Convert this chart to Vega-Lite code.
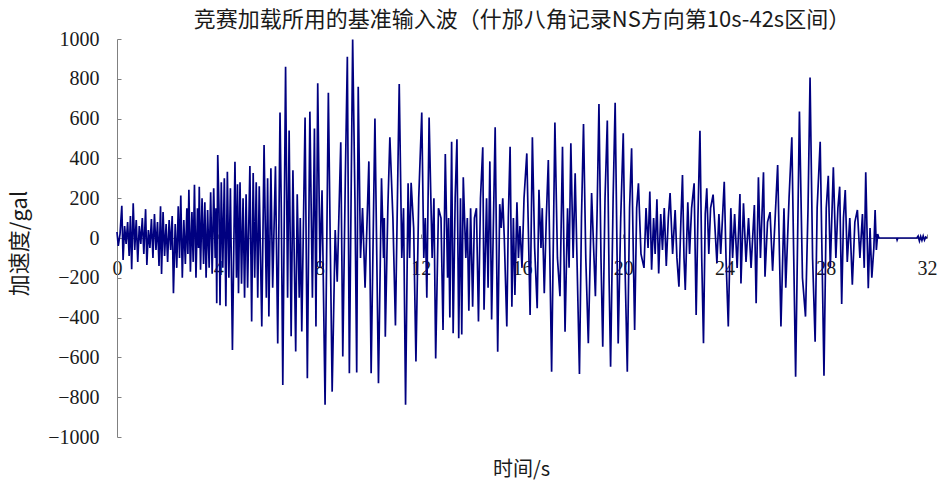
{
"$schema": "https://vega.github.io/schema/vega-lite/v6.json",
"width": 810, "height": 398,
"autosize": "none",
"padding": {"left": 117, "top": 39, "right": 14, "bottom": 44},
"background": "white",
"config": {"view": {"stroke": null}},
"title": {"text": "竞赛加载所用的基准输入波（什邡八角记录NS方向第10s-42s区间）", "font": "Noto Sans CJK SC", "fontSize": 22, "fontWeight": "normal", "color": "#1a1a1a", "anchor": "middle", "offset": -3},
"data": {"values": [
{"t":0.00,"a":30},{"t":0.05,"a":-40},{"t":0.12,"a":20},{"t":0.19,"a":162},{"t":0.24,"a":-110},{"t":0.30,"a":60},{"t":0.36,"a":-30},{"t":0.42,"a":80},{"t":0.48,"a":-90},{"t":0.53,"a":110},{"t":0.58,"a":-157},{"t":0.64,"a":174},{"t":0.70,"a":-60},{"t":0.76,"a":90},{"t":0.82,"a":-120},{"t":0.88,"a":60},{"t":0.94,"a":-30},{"t":1.00,"a":100},{"t":1.06,"a":-80},{"t":1.13,"a":145},{"t":1.18,"a":-135},{"t":1.24,"a":40},{"t":1.30,"a":-50},{"t":1.36,"a":95},{"t":1.42,"a":-100},{"t":1.48,"a":120},{"t":1.54,"a":-60},{"t":1.60,"a":80},{"t":1.66,"a":-140},{"t":1.72,"a":160},{"t":1.76,"a":-181},{"t":1.82,"a":130},{"t":1.88,"a":-90},{"t":1.94,"a":70},{"t":2.00,"a":-120},{"t":2.06,"a":90},{"t":2.12,"a":-60},{"t":2.18,"a":110},{"t":2.23,"a":-278},{"t":2.30,"a":70},{"t":2.36,"a":-150},{"t":2.42,"a":160},{"t":2.47,"a":-100},{"t":2.52,"a":213},{"t":2.58,"a":-200},{"t":2.64,"a":90},{"t":2.70,"a":-130},{"t":2.76,"a":150},{"t":2.80,"a":-80},{"t":2.84,"a":242},{"t":2.90,"a":-170},{"t":2.96,"a":130},{"t":3.01,"a":-120},{"t":3.06,"a":268},{"t":3.12,"a":-200},{"t":3.18,"a":150},{"t":3.22,"a":-50},{"t":3.25,"a":258},{"t":3.30,"a":-160},{"t":3.36,"a":200},{"t":3.42,"a":-130},{"t":3.47,"a":180},{"t":3.52,"a":-200},{"t":3.58,"a":140},{"t":3.64,"a":-150},{"t":3.70,"a":230},{"t":3.76,"a":-180},{"t":3.82,"a":250},{"t":3.88,"a":-100},{"t":3.91,"a":150},{"t":3.94,"a":-328},{"t":3.98,"a":417},{"t":4.03,"a":150},{"t":4.07,"a":-338},{"t":4.12,"a":280},{"t":4.18,"a":-150},{"t":4.24,"a":300},{"t":4.30,"a":-343},{"t":4.36,"a":333},{"t":4.42,"a":-200},{"t":4.48,"a":250},{"t":4.56,"a":-563},{"t":4.66,"a":383},{"t":4.72,"a":-200},{"t":4.76,"a":270},{"t":4.80,"a":-278},{"t":4.86,"a":280},{"t":4.92,"a":-230},{"t":4.98,"a":200},{"t":5.04,"a":-300},{"t":5.10,"a":220},{"t":5.16,"a":-250},{"t":5.25,"a":362},{"t":5.32,"a":-420},{"t":5.38,"a":327},{"t":5.44,"a":-200},{"t":5.50,"a":280},{"t":5.56,"a":-300},{"t":5.62,"a":260},{"t":5.72,"a":-445},{"t":5.81,"a":467},{"t":5.90,"a":-300},{"t":5.95,"a":300},{"t":6.00,"a":-395},{"t":6.08,"a":350},{"t":6.15,"a":-250},{"t":6.26,"a":360},{"t":6.35,"a":-530},{"t":6.44,"a":630},{"t":6.49,"a":150},{"t":6.55,"a":-739},{"t":6.66,"a":861},{"t":6.74,"a":-300},{"t":6.80,"a":540},{"t":6.88,"a":-494},{"t":6.95,"a":340},{"t":7.06,"a":-570},{"t":7.12,"a":220},{"t":7.20,"a":-300},{"t":7.24,"a":100},{"t":7.30,"a":-470},{"t":7.43,"a":606},{"t":7.52,"a":-705},{"t":7.62,"a":635},{"t":7.72,"a":-300},{"t":7.80,"a":550},{"t":7.86,"a":-445},{"t":7.93,"a":777},
{"t":8.02,"a":-150},{"t":8.10,"a":240},{"t":8.22,"a":-838},{"t":8.35,"a":730},{"t":8.50,"a":-772},{"t":8.62,"a":40},{"t":8.70,"a":-220},{"t":8.84,"a":481},{"t":8.92,"a":-596},{"t":9.02,"a":300},{"t":9.10,"a":911},{"t":9.18,"a":-680},{"t":9.31,"a":998},{"t":9.40,"a":200},{"t":9.47,"a":-676},{"t":9.53,"a":760},{"t":9.62,"a":-100},{"t":9.70,"a":150},{"t":9.80,"a":-250},{"t":9.95,"a":385},{"t":10.04,"a":-680},{"t":10.19,"a":601},{"t":10.33,"a":-730},{"t":10.45,"a":300},{"t":10.53,"a":-100},{"t":10.56,"a":100},{"t":10.60,"a":-496},{"t":10.70,"a":150},{"t":10.78,"a":506},{"t":10.90,"a":100},{"t":11.00,"a":-440},{"t":11.15,"a":774},{"t":11.25,"a":-100},{"t":11.32,"a":150},{"t":11.40,"a":-838},{"t":11.50,"a":275},{"t":11.56,"a":-100},{"t":11.62,"a":278},{"t":11.72,"a":50},{"t":11.81,"a":-621},{"t":11.92,"a":200},{"t":12.04,"a":630},{"t":12.12,"a":-100},{"t":12.18,"a":100},{"t":12.24,"a":-300},{"t":12.33,"a":606},{"t":12.45,"a":-100},{"t":12.52,"a":200},{"t":12.59,"a":-605},{"t":12.70,"a":150},{"t":12.80,"a":100},{"t":12.88,"a":-462},{"t":12.97,"a":422},{"t":13.06,"a":-200},{"t":13.10,"a":100},{"t":13.15,"a":-400},{"t":13.22,"a":484},{"t":13.28,"a":-479},{"t":13.36,"a":200},{"t":13.43,"a":496},{"t":13.50,"a":-504},{"t":13.57,"a":200},{"t":13.62,"a":-485},{"t":13.68,"a":305},{"t":13.78,"a":-100},{"t":13.84,"a":100},{"t":13.90,"a":-365},{"t":13.97,"a":150},{"t":14.05,"a":-345},{"t":14.12,"a":100},{"t":14.20,"a":150},{"t":14.28,"a":-420},{"t":14.36,"a":200},{"t":14.45,"a":456},{"t":14.50,"a":-360},{"t":14.60,"a":200},{"t":14.66,"a":-250},{"t":14.73,"a":385},{"t":14.80,"a":-410},{"t":14.94,"a":556},{"t":15.04,"a":-571},{"t":15.12,"a":170},{"t":15.18,"a":50},{"t":15.24,"a":200},{"t":15.30,"a":0},{"t":15.40,"a":-445},{"t":15.46,"a":100},{"t":15.53,"a":459},{"t":15.60,"a":-345},{"t":15.66,"a":100},{"t":15.72,"a":-286},{"t":15.80,"a":180},{"t":15.86,"a":-100},{"t":15.92,"a":60},{"t":16.00,"a":-150},{"t":16.08,"a":200},
{"t":16.19,"a":425},{"t":16.32,"a":-387},{"t":16.41,"a":506},{"t":16.50,"a":-50},{"t":16.60,"a":-353},{"t":16.67,"a":242},{"t":16.75,"a":-50},{"t":16.80,"a":150},{"t":16.88,"a":-278},{"t":16.96,"a":100},{"t":17.04,"a":392},{"t":17.17,"a":-672},{"t":17.30,"a":580},{"t":17.40,"a":-100},{"t":17.50,"a":-293},{"t":17.60,"a":459},{"t":17.70,"a":-471},{"t":17.80,"a":150},{"t":17.86,"a":-150},{"t":17.93,"a":476},{"t":18.02,"a":-100},{"t":18.10,"a":325},{"t":18.18,"a":-150},{"t":18.27,"a":-683},{"t":18.35,"a":100},{"t":18.43,"a":573},{"t":18.52,"a":-100},{"t":18.62,"a":-529},{"t":18.75,"a":226},{"t":18.90,"a":-293},{"t":18.97,"a":150},{"t":19.04,"a":673},{"t":19.12,"a":-100},{"t":19.19,"a":-546},{"t":19.28,"a":200},{"t":19.37,"a":590},{"t":19.44,"a":-200},{"t":19.50,"a":-647},{"t":19.60,"a":200},{"t":19.68,"a":680},{"t":19.80,"a":-530},{"t":19.90,"a":100},{"t":20.00,"a":526},{"t":20.08,"a":-200},{"t":20.16,"a":-672},{"t":20.25,"a":150},{"t":20.33,"a":451},{"t":20.40,"a":-100},{"t":20.45,"a":-462},{"t":20.53,"a":150},{"t":20.60,"a":275},{"t":20.70,"a":-80},{"t":20.82,"a":-150},{"t":20.90,"a":150},{"t":20.98,"a":-50},{"t":21.05,"a":233},{"t":21.12,"a":-160},{"t":21.20,"a":100},{"t":21.26,"a":-80},{"t":21.33,"a":194},{"t":21.40,"a":-178},{"t":21.48,"a":120},{"t":21.55,"a":-60},{"t":21.62,"a":150},{"t":21.70,"a":-140},{"t":21.78,"a":100},{"t":21.85,"a":226},{"t":21.95,"a":-80},{"t":22.05,"a":140},{"t":22.12,"a":-100},{"t":22.20,"a":-245},{"t":22.28,"a":100},{"t":22.34,"a":317},{"t":22.40,"a":-100},{"t":22.45,"a":-261},{"t":22.55,"a":180},{"t":22.62,"a":-80},{"t":22.70,"a":150},{"t":22.80,"a":275},{"t":22.88,"a":-387},{"t":22.95,"a":100},{"t":23.03,"a":539},{"t":23.10,"a":-100},{"t":23.17,"a":-529},{"t":23.24,"a":120},{"t":23.30,"a":250},{"t":23.38,"a":-80},{"t":23.45,"a":150},{"t":23.55,"a":218},{"t":23.62,"a":60},{"t":23.70,"a":-125},{"t":23.78,"a":120},{"t":23.85,"a":-80},{"t":23.92,"a":100},{"t":23.99,"a":283},{"t":24.06,"a":-100},{"t":24.15,"a":-445},
{"t":24.25,"a":150},{"t":24.32,"a":-100},{"t":24.40,"a":120},{"t":24.50,"a":-150},{"t":24.61,"a":221},{"t":24.65,"a":-228},{"t":24.75,"a":174},{"t":24.85,"a":-120},{"t":24.95,"a":100},{"t":25.05,"a":-150},{"t":25.18,"a":166},{"t":25.25,"a":-328},{"t":25.34,"a":305},{"t":25.42,"a":-100},{"t":25.54,"a":330},{"t":25.60,"a":-195},{"t":25.70,"a":80},{"t":25.80,"a":130},{"t":25.90,"a":-165},{"t":26.00,"a":100},{"t":26.10,"a":367},{"t":26.23,"a":-445},{"t":26.35,"a":150},{"t":26.42,"a":-250},{"t":26.55,"a":200},{"t":26.66,"a":506},{"t":26.81,"a":-697},{"t":26.96,"a":635},{"t":27.08,"a":-200},{"t":27.20,"a":-395},{"t":27.30,"a":150},{"t":27.38,"a":806},{"t":27.48,"a":-100},{"t":27.58,"a":-521},{"t":27.66,"a":150},{"t":27.78,"a":484},{"t":27.93,"a":-692},{"t":28.02,"a":150},{"t":28.10,"a":313},{"t":28.18,"a":-150},{"t":28.30,"a":355},{"t":28.40,"a":-100},{"t":28.48,"a":150},{"t":28.55,"a":258},{"t":28.63,"a":-332},{"t":28.70,"a":100},{"t":28.77,"a":241},{"t":28.85,"a":-120},{"t":28.95,"a":100},{"t":29.05,"a":-235},{"t":29.15,"a":80},{"t":29.25,"a":141},{"t":29.35,"a":-100},{"t":29.45,"a":120},{"t":29.52,"a":-150},{"t":29.58,"a":330},{"t":29.68,"a":-253},{"t":29.75,"a":50},{"t":29.82,"a":-200},{"t":29.90,"a":-50},{"t":29.95,"a":141},{"t":30.00,"a":-60},{"t":30.05,"a":20},{"t":30.10,"a":0},{"t":30.80,"a":0},{"t":30.82,"a":-10},{"t":30.85,"a":0},{"t":31.60,"a":0},{"t":31.65,"a":10},{"t":31.70,"a":-15},{"t":31.75,"a":8},{"t":31.80,"a":-12},{"t":31.85,"a":10},{"t":31.90,"a":-10},{"t":31.95,"a":5},{"t":32.00,"a":0}
]},
"mark": {"type": "line", "color": "#000080", "strokeWidth": 1.7},
"encoding": {
  "x": {"field": "t", "type": "quantitative", "scale": {"domain": [0, 32], "nice": false},
    "axis": {"values": [0,4,8,12,16,20,24,28,32], "format": "d", "offset": -199, "grid": false, "domainColor": "#808080", "tickColor": "#808080", "tickSize": -4, "labelFont": "Liberation Serif, Times New Roman, serif", "labelFontSize": 20, "labelColor": "#1a1a1a", "labelPadding": 24, "labelFlush": false, "labelOverlap": false,
      "title": "时间/s", "titleFont": "Noto Sans CJK SC", "titleFontSize": 20, "titleFontWeight": "normal", "titleColor": "#1a1a1a", "titleX": 404, "titleY": 231, "titleBaseline": "middle", "titleAlign": "center"}},
  "y": {"field": "a", "type": "quantitative", "scale": {"domain": [-1000, 1000], "nice": false},
    "axis": {"values": [-1000,-800,-600,-400,-200,0,200,400,600,800,1000], "format": "d", "grid": false, "domainColor": "#808080", "tickColor": "#808080", "tickSize": -4, "labelFont": "Liberation Serif, Times New Roman, serif", "labelFontSize": 20, "labelColor": "#1a1a1a", "labelPadding": 22, "labelOverlap": false, "labelFlush": false,
      "title": "加速度/gal", "titleFont": "Noto Sans CJK SC", "titleFontSize": 22, "titleFontWeight": "normal", "titleColor": "#1a1a1a", "titleX": -98, "titleY": 204, "titleAngle": -90, "titleBaseline": "middle", "titleAlign": "center"}}
}
}
